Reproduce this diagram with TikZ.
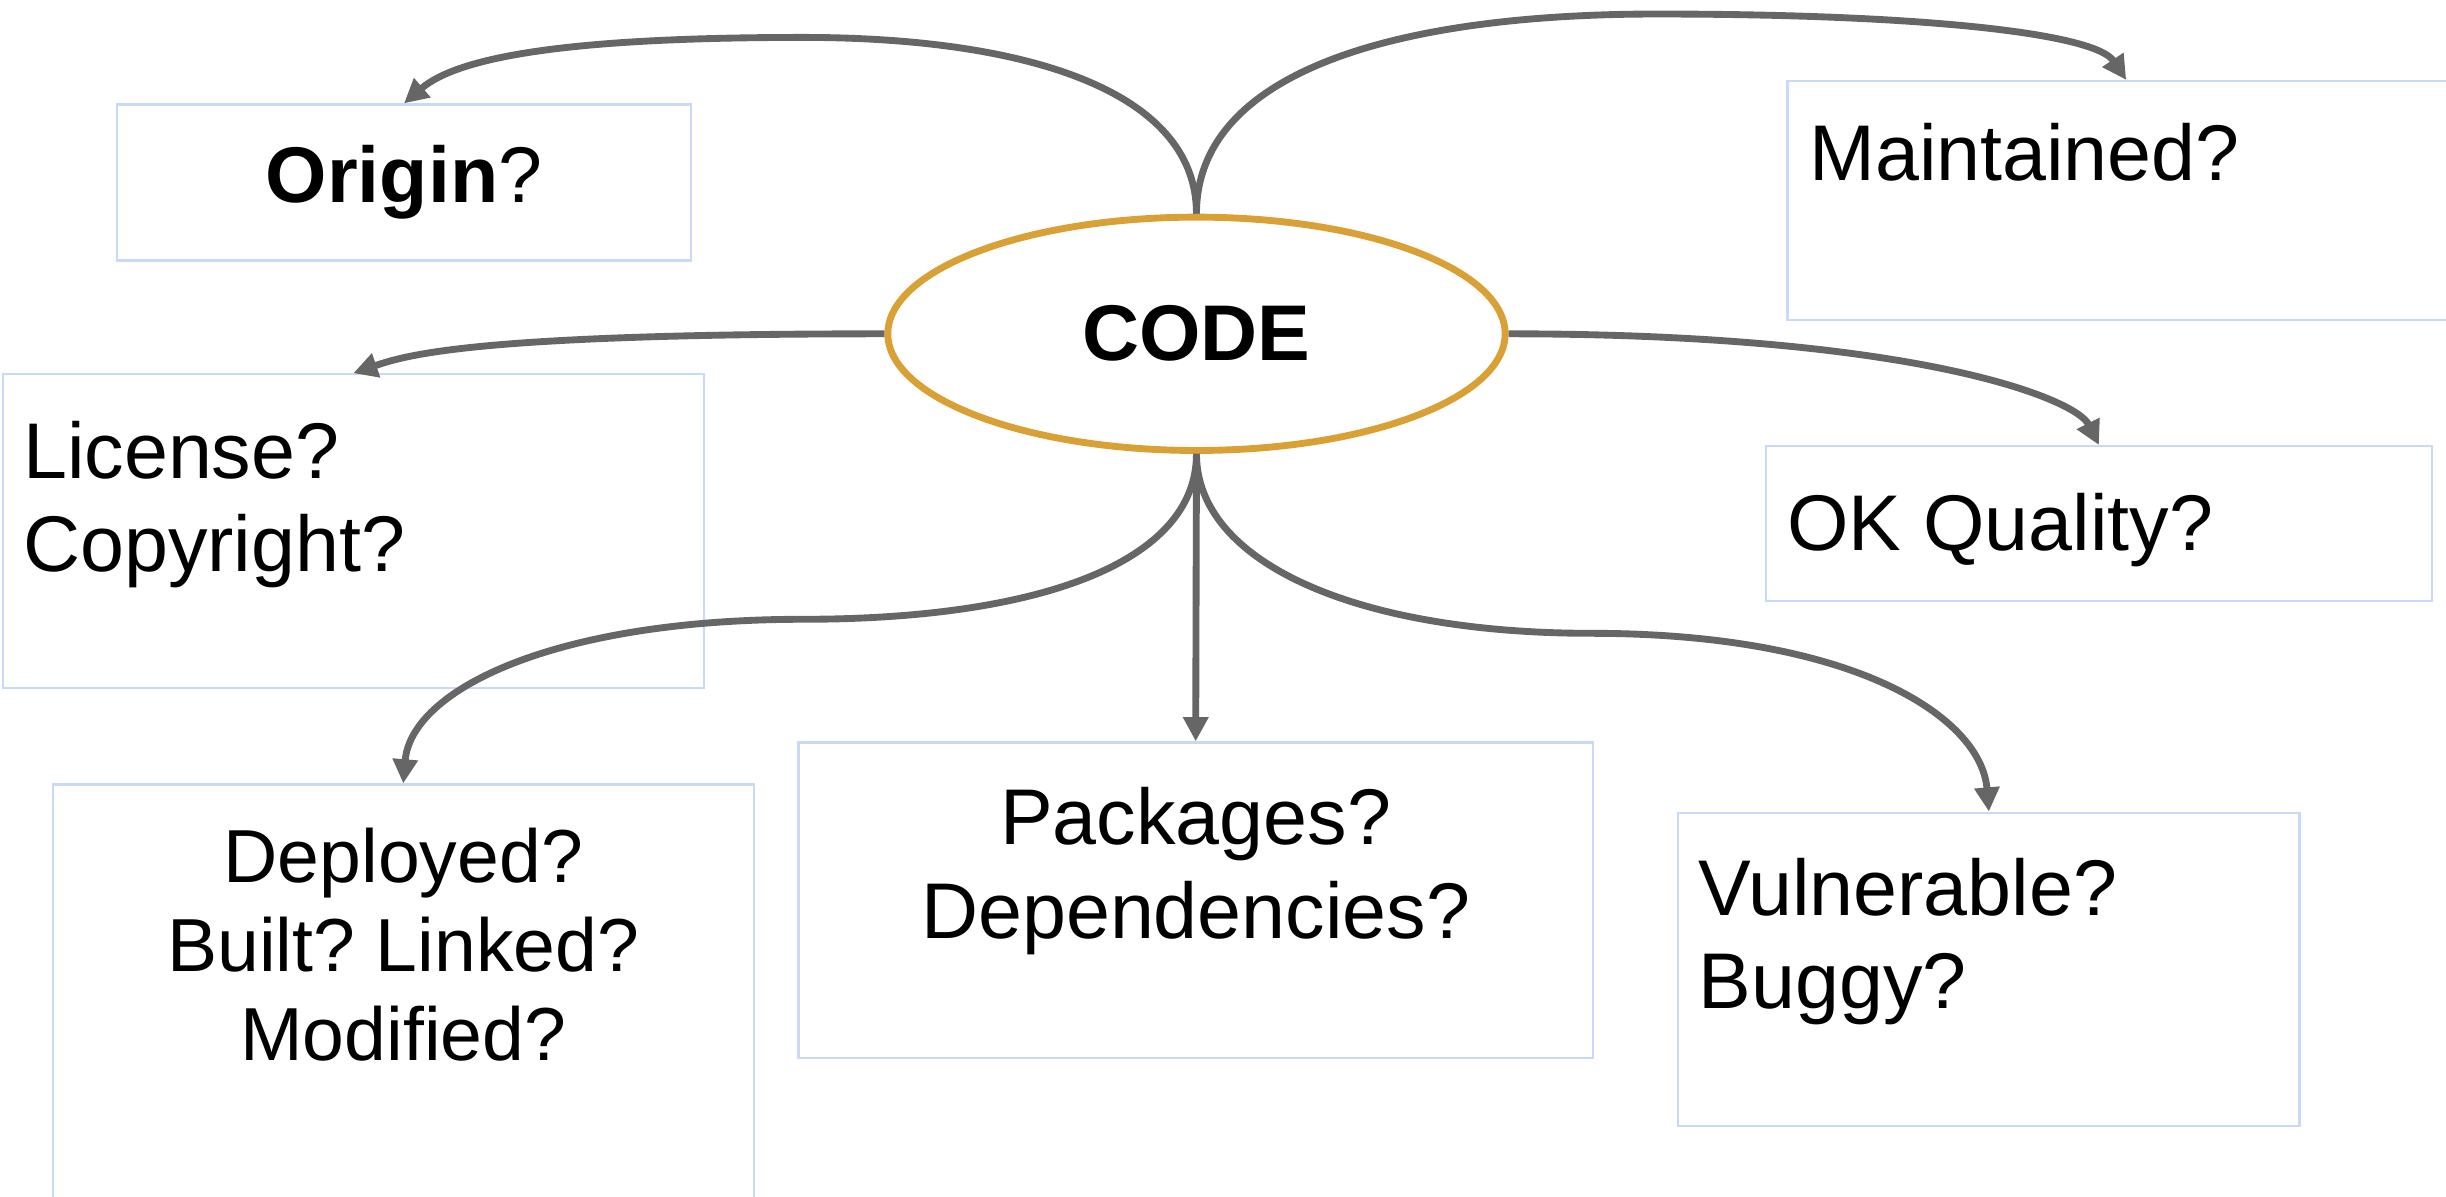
\documentclass[tikz,border=0pt]{standalone}
\usepackage{fontspec}
\setmainfont{Liberation Sans}
\usetikzlibrary{arrows.meta,shapes.geometric,positioning}
\frenchspacing

\definecolor{boxblue}{HTML}{C9DAF8}
\definecolor{linkgray}{HTML}{666666}
\definecolor{codegold}{HTML}{D9A036}

\tikzset{
    qbox/.style={draw=boxblue, line width=0.4pt, inner sep=0pt},
    qtext/.style={inner sep=0pt, font=\fontsize{14.4}{17}\selectfont},
    link/.style={draw=linkgray, line width=1.25pt, -{Triangle[length=4.4pt,width=4.4pt]}}
}

\begin{document}
\begin{tikzpicture}[x=0.01cm, y=0.01cm]
    \path[fill=white, use as bounding box] (0,0) rectangle (1568,767);

    % --- Centro ---
    \node[ellipse, draw=codegold, line width=1.25pt, minimum width=3.955cm, minimum height=1.495cm,
          inner sep=0pt, font=\fontsize{14.4}{17}\selectfont\bfseries] (code) at (767,553) {CODE};

    % --- Cajas ---
    \node[qbox, qtext, minimum width=3.68cm, minimum height=1cm] (origin) at (259,650) {\textbf{Origin}?};
    \node[qbox, minimum width=4.34cm, minimum height=1.53cm] (maint) at (1363,638.5) {};
    \node[qbox, minimum width=4.49cm, minimum height=2.01cm] (license) at (226.5,426.5) {};
    \node[qbox, minimum width=4.27cm, minimum height=0.99cm] (quality) at (1345.5,431.5) {};
    \node[qbox, minimum width=4.49cm, minimum height=2.97cm] (deploy) at (258.5,115.5) {};
    \node[qbox, minimum width=5.09cm, minimum height=2.02cm] (pkg) at (766.5,190) {};
    \node[qbox, minimum width=3.98cm, minimum height=2.01cm] (vuln) at (1275,145.5) {};

    % --- Textos ---
    \node[qtext, anchor=north west] (maintT) at ([shift={(14,-27)}]maint.north west) {Maintained?};
    \node[qtext, anchor=north west, align=left] (licenseT) at ([shift={(13,-30)}]license.north west) {License?\\Copyright?};
    \node[qtext, anchor=north west] (qualityT) at ([shift={(14,-30)}]quality.north west) {OK Quality?};
    \node[qtext, anchor=north, align=center, font=\fontsize{13.7}{16.2}\selectfont] (deployT)
        at ([shift={(0,-28)}]deploy.north) {Deployed?\\Built? Linked?\\Modified?};
    \node[qtext, anchor=north, align=center] (pkgT) at ([shift={(0,-29)}]pkg.north) {Packages?\\Dependencies?};
    \node[qtext, anchor=north west, align=left] (vulnT) at ([shift={(13,-29)}]vuln.north west) {Vulnerable?\\Buggy?};

    % --- Conectores ---
    \coordinate (topL) at (515,743);
    \coordinate (topR) at (1062,758);
    \coordinate (lowL) at (515,370);
    \coordinate (lowR) at (1020,361);

    \draw[link] (code.north) .. controls +(0,80) and +(140,0) .. (topL)
                             .. controls +(-150,0) and +(35,30) .. (origin.north);
    \draw[link] (code.north) .. controls +(0,90) and +(-170,0) .. (topR)
                             .. controls +(170,0) and +(-20,30) .. (maint.north);
    \draw[link] (code.west) .. controls +(-260,0) and +(35,12) .. (license.north);
    \draw[link] (code.east) .. controls +(260,0) and +(-15,30) .. (quality.north);
    \draw[link] (code.south) .. controls +(0,-70) and +(150,0) .. (lowL)
                             .. controls +(-160,0) and +(5,60) .. (deploy.north);
    \draw[link] (code.south) -- (pkg.north);
    \draw[link] (code.south) .. controls +(0,-70) and +(-150,0) .. (lowR)
                             .. controls +(170,0) and +(-5,60) .. (vuln.north);
\end{tikzpicture}
\end{document}
